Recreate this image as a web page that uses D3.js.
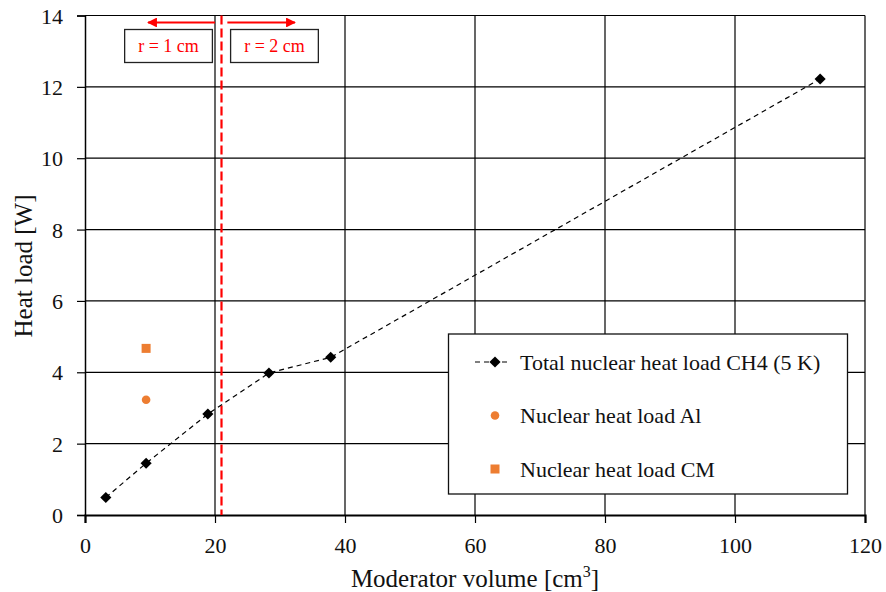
<!DOCTYPE html>
<html>
<head>
<meta charset="utf-8">
<script src="https://cdn.jsdelivr.net/npm/d3@7"></script>
<style>
body { margin: 0; background: #fff; }
</style>
</head>
<body>
<svg id="chart" width="886" height="592"></svg>
<script>
// moderator volume [cm3] vs total heat load [W]
var volume = [3.2, 9.4, 18.9, 28.3, 37.8, 113.1];
var totalLoad = [0.49, 1.45, 2.83, 3.98, 4.42, 12.22];
// single points at r = 1 cm
var alVolume = [9.4];
var alLoad = [3.23];
var cmVolume = [9.4];
var cmLoad = [4.67];
var xTicks = [0, 20, 40, 60, 80, 100, 120];
var yTicks = [0, 2, 4, 6, 8, 10, 12, 14];
var radiusSplit = 21; // boundary between r = 1 cm and r = 2 cm
var legendNames = ['Total nuclear heat load CH4 (5 K)', 'Nuclear heat load Al', 'Nuclear heat load CM'];

var FONT = '"Liberation Serif", "DejaVu Serif", Times, serif';
var svg = d3.select('#chart').attr('font-family', FONT);
var pLeft = 85, pRight = 865, pTop = 15.5, pBottom = 515;
var orange = '#ed7d31';

var x = d3.scaleLinear().domain([0, 120]).range([pLeft, pRight]);
var y = d3.scaleLinear().domain([0, 14]).range([pBottom, pTop]);

//grid
svg.append('g').selectAll('line').data(xTicks.slice(1)).enter().append('line')
	.attr('x1', d => x(d)).attr('x2', d => x(d))
	.attr('y1', pTop).attr('y2', pBottom)
	.attr('stroke', '#000').attr('stroke-width', 1.2);
svg.append('g').selectAll('line').data(yTicks.slice(1)).enter().append('line')
	.attr('x1', pLeft).attr('x2', pRight)
	.attr('y1', d => y(d)).attr('y2', d => y(d))
	.attr('stroke', '#000').attr('stroke-width', 1.2);

//axes
var xAxis = svg.append('g').attr('transform', `translate(0,${pBottom})`)
	.call(d3.axisBottom(x).tickValues(xTicks).tickSize(8).tickPadding(12).tickFormat(d3.format('d')));
var yAxis = svg.append('g').attr('transform', `translate(${pLeft},0)`)
	.call(d3.axisLeft(y).tickValues(yTicks).tickSize(8).tickPadding(14).tickFormat(d3.format('d')));
[xAxis, yAxis].forEach(function (a) {
	a.attr('font-family', FONT).attr('font-size', 22);
	a.select('.domain').attr('stroke', '#000').attr('stroke-width', 1.5);
	a.selectAll('.tick line').attr('stroke', '#000').attr('stroke-width', 1.2);
	a.selectAll('text').attr('fill', '#111');
});
xAxis.select('.domain').attr('stroke-width', 2.2);
xAxis.selectAll('.tick text').attr('dy', '0.8em');
yAxis.selectAll('.tick text').attr('dy', '0.35em');

//radius boundary
svg.append('line')
	.attr('x1', x(radiusSplit)).attr('x2', x(radiusSplit))
	.attr('y1', pTop).attr('y2', pBottom)
	.attr('stroke', '#ff0000').attr('stroke-width', 2.2)
	.attr('stroke-dasharray', '9,4');

var defs = svg.append('defs');
defs.append('marker').attr('id', 'arrow')
	.attr('viewBox', '0 0 10 10').attr('refX', 9).attr('refY', 5)
	.attr('markerWidth', 4.5).attr('markerHeight', 4.5).attr('orient', 'auto')
	.append('path').attr('d', 'M0,0L10,5L0,10z').attr('fill', '#ff0000');

var arrowY = 22.5;
svg.append('line')
	.attr('x1', x(20)).attr('x2', x(9.7))
	.attr('y1', arrowY).attr('y2', arrowY)
	.attr('stroke', '#ff0000').attr('stroke-width', 2.2).attr('marker-end', 'url(#arrow)');
svg.append('line')
	.attr('x1', x(21.9)).attr('x2', x(32.3))
	.attr('y1', arrowY).attr('y2', arrowY)
	.attr('stroke', '#ff0000').attr('stroke-width', 2.2).attr('marker-end', 'url(#arrow)');

var boxes = [
	{ x0: x(6.1), x1: x(19.6), label: 'r = 1 cm' },
	{ x0: x(22.4), x1: x(35.9), label: 'r = 2 cm' }
];
boxes.forEach(function (b) {
	svg.append('rect')
		.attr('x', b.x0).attr('y', 29.5)
		.attr('width', b.x1 - b.x0).attr('height', 33)
		.attr('fill', '#fff').attr('stroke', '#222').attr('stroke-width', 1.3);
	svg.append('text')
		.attr('x', (b.x0 + b.x1) / 2).attr('y', 52)
		.attr('text-anchor', 'middle').attr('font-size', 18)
		.attr('fill', '#ff0000').text(b.label);
});

//series
var line = d3.line().x(d => x(d[0])).y(d => y(d[1]));
var pts = volume.map((v, i) => [v, totalLoad[i]]);
svg.append('path').datum(pts)
	.attr('d', line).attr('fill', 'none')
	.attr('stroke', '#000').attr('stroke-width', 1.2).attr('stroke-dasharray', '5,4');

var diamond = d3.symbol().type(d3.symbolSquare).size(62);
svg.append('g').selectAll('path').data(pts).enter().append('path')
	.attr('d', diamond)
	.attr('transform', d => `translate(${x(d[0])},${y(d[1])}) rotate(45)`)
	.attr('fill', '#000');

svg.append('g').selectAll('circle').data(alVolume).enter().append('circle')
	.attr('cx', d => x(d)).attr('cy', (d, i) => y(alLoad[i]))
	.attr('r', 4.3).attr('fill', orange);

svg.append('g').selectAll('rect').data(cmVolume).enter().append('rect')
	.attr('x', d => x(d) - 4.5).attr('y', (d, i) => y(cmLoad[i]) - 4.5)
	.attr('width', 9).attr('height', 9).attr('fill', orange);

//legend
var lg = svg.append('g');
lg.append('rect')
	.attr('x', 448.5).attr('y', 334).attr('width', 399).attr('height', 160)
	.attr('fill', '#fff').attr('stroke', '#111').attr('stroke-width', 1.3);
var rows = [362, 415.5, 469];
lg.append('line')
	.attr('x1', 475).attr('x2', 510).attr('y1', rows[0]).attr('y2', rows[0])
	.attr('stroke', '#000').attr('stroke-width', 1.2).attr('stroke-dasharray', '5,4');
lg.append('path').attr('d', diamond)
	.attr('transform', `translate(495,${rows[0]}) rotate(45)`).attr('fill', '#000');
lg.append('circle').attr('cx', 495).attr('cy', rows[1]).attr('r', 4.3).attr('fill', orange);
lg.append('rect').attr('x', 490.5).attr('y', rows[2] - 4.5).attr('width', 9).attr('height', 9).attr('fill', orange);
lg.selectAll('text.lab').data(legendNames).enter().append('text')
	.attr('class', 'lab')
	.attr('x', 520).attr('y', (d, i) => rows[i])
	.attr('dy', '0.35em').attr('font-size', 22).attr('fill', '#111')
	.text(d => d);

//axis titles
var xt = svg.append('text')
	.attr('x', (pLeft + pRight) / 2).attr('y', 587)
	.attr('text-anchor', 'middle').attr('font-size', 25).attr('fill', '#111');
xt.append('tspan').text('Moderator volume [cm');
xt.append('tspan').attr('font-size', 16).attr('dy', -10).text('3');
xt.append('tspan').attr('dy', 10).text(']');

svg.append('text')
	.attr('transform', `translate(32,266) rotate(-90)`)
	.attr('text-anchor', 'middle').attr('font-size', 25).attr('fill', '#111')
	.text('Heat load [W]');
</script>
</body>
</html>
